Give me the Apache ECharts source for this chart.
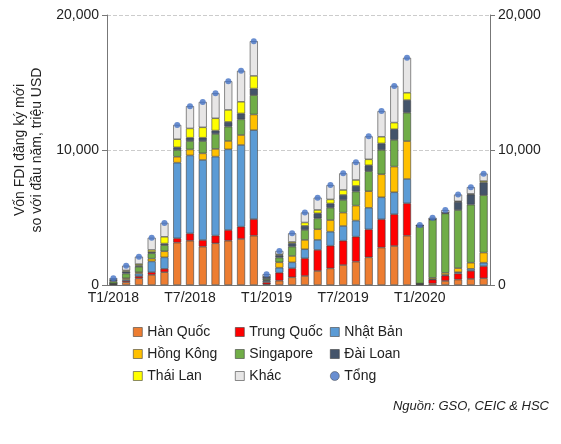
<!DOCTYPE html>
<html><head><meta charset="utf-8">
<script src="https://cdn.jsdelivr.net/npm/echarts@6/dist/echarts.min.js"></script>
<style>html,body{margin:0;padding:0;background:#fff}#c{width:561px;height:444px}</style>
</head><body><div id="c"></div>
<script>
const months = [];
for (const y of [2018, 2019, 2020]) for (let m = 1; m <= 12; m++) { if (y === 2020 && m > 6) break; months.push('T' + m + '/' + y); }
const hanQuoc   = [0.05,0.2,0.5,0.75,0.95,3.14,3.28,2.84,3.09,3.28,3.41,3.65, 0.05,0.32,0.57,0.67,1.04,1.23,1.48,1.73,2.05,2.77,2.89,3.65, 0.05,0.1,0.3,0.4,0.45,0.5].map(v=>v*1000);
const trungQuoc = [0.02,0.1,0.15,0.2,0.25,0.32,0.54,0.49,0.57,0.79,0.91,1.23, 0.15,0.59,0.67,1.31,1.56,1.68,1.8,1.85,2.07,2.1,2.35,2.4, 0.02,0.3,0.4,0.45,0.6,0.9].map(v=>v*1000);
const nhatBan   = [0.02,0.1,0.2,0.8,0.85,5.6,5.78,5.93,5.85,5.98,6.05,6.59, 0.1,0.37,0.44,0.67,0.74,1.04,1.09,1.19,1.6,1.63,1.63,1.8, 0.02,0.03,0.05,0.1,0.15,0.25].map(v=>v*1000);
const hongKong  = [0.02,0.1,0.1,0.2,0.45,0.44,0.44,0.49,0.57,0.62,0.74,1.16, 0.05,0.4,0.47,0.69,0.79,0.86,0.99,1.11,1.23,1.7,1.9,2.81, 0.02,0.1,0.15,0.3,0.45,0.75].map(v=>v*1000);
const singapore = [0.15,0.35,0.4,0.4,0.45,0.5,0.62,0.91,1.11,1.06,1.16,1.43, 0.1,0.35,0.69,0.74,0.81,0.91,0.94,1.04,1.48,1.8,1.98,2.1, 4.2,4.3,4.4,4.3,4.3,4.25].map(v=>v*1000);
const daiLoan   = [0.1,0.15,0.1,0.1,0.12,0.2,0.25,0.25,0.25,0.35,0.44,0.49, 0.15,0.17,0.25,0.3,0.37,0.32,0.37,0.42,0.44,0.49,0.79,0.94, 0.1,0.05,0.05,0.6,0.75,0.95].map(v=>v*1000);
const thaiLan   = [0.04,0.08,0.1,0.15,0.5,0.6,0.69,0.77,0.91,0.89,0.86,0.94, 0.02,0.07,0.1,0.25,0.25,0.3,0.37,0.44,0.44,0.49,0.49,0.54, 0,0,0,0.05,0.05,0.1].map(v=>v*1000);
const khac      = [0.1,0.35,0.55,0.9,1.03,1.06,1.65,1.88,1.85,2.12,2.3,2.57, 0.18,0.25,0.64,0.74,0.91,1.06,1.23,1.31,1.7,1.9,2.72,2.59, 0.03,0.1,0.2,0.5,0.5,0.55].map(v=>v*1000);

const names = ['Hàn Quốc','Trung Quốc','Nhật Bản','Hồng Kông','Singapore','Đài Loan','Thái Lan','Khác'];
const datas = [hanQuoc,trungQuoc,nhatBan,hongKong,singapore,daiLoan,thaiLan,khac];
const colors = ['#ED7D31','#FF0000','#5B9BD5','#FFC000','#70AD47','#44546A','#FFFF00','#E7E6E6'];
const tong = months.map((_, i) => datas.reduce((s, d) => s + d[i], 0));

const series = names.map((n, k) => ({
  name: n, type: 'bar', stack: 'a', data: datas[k], barWidth: 8,
  itemStyle: { color: colors[k], borderColor: '#404040', borderWidth: 0.6 }
}));
series.push({ name: 'Tổng', type: 'scatter', data: tong, symbolSize: 6, itemStyle: { color: '#4472C4' }, z: 5 });

const F = 'Liberation Sans, Arial, sans-serif';
const lg = (items, left, top) => ({ data: items.map(n => ({ name: n, icon: n === 'Tổng' ? 'circle' : 'rect' })), orient: 'vertical', left, top, itemGap: 8,
  itemWidth: 9, itemHeight: 9, itemStyle: { borderColor: '#404040', borderWidth: 0.6 },
  textStyle: { fontFamily: F, fontSize: 14, color: '#222' } });
const legends = [
  lg(['Hàn Quốc','Hồng Kông','Thái Lan'], 128, 320),
  lg(['Trung Quốc','Singapore','Khác'], 230, 320),
  lg(['Nhật Bản','Đài Loan','Tổng'], 325, 320)
];

const chart = echarts.init(document.getElementById('c'));
chart.setOption({
  animation: false,
  grid: { left: 107, right: 71, top: 15, bottom: 159 },
  legend: legends,
  xAxis: { type: 'category', data: months,
    axisLine: { lineStyle: { color: '#777' } },
    axisTick: { interval: 2, lineStyle: { color: '#777' } },
    axisLabel: { interval: 5, fontFamily: F, fontSize: 14, color: '#222', margin: 6 } },
  yAxis: [
    { type: 'value', min: 0, max: 20000, interval: 10000,
      axisLine: { show: true, lineStyle: { color: '#777' } }, axisTick: { show: true, lineStyle: { color: '#777' } },
      axisLabel: { fontFamily: F, fontSize: 14, color: '#222', formatter: v => v.toLocaleString('en-US') },
      splitLine: { lineStyle: { type: 'dashed', color: '#ccc' } },
      name: 'Vốn FDI đăng ký mới\nso với đầu năm, triệu USD', nameLocation: 'middle', nameGap: 56,
      nameTextStyle: { fontFamily: F, fontSize: 14, color: '#222', lineHeight: 17 } },
    { type: 'value', min: 0, max: 20000, interval: 10000, position: 'right',
      axisLine: { show: true, lineStyle: { color: '#777' } }, axisTick: { show: true, lineStyle: { color: '#777' } },
      axisLabel: { fontFamily: F, fontSize: 14, color: '#222', formatter: v => v.toLocaleString('en-US') },
      splitLine: { show: false } }
  ],
  graphic: [{ type: 'text', right: 12, top: 400, style: { text: 'Nguồn: GSO, CEIC & HSC', font: 'italic 13px ' + F, fill: '#222' } }],
  series
});
</script></body></html>
